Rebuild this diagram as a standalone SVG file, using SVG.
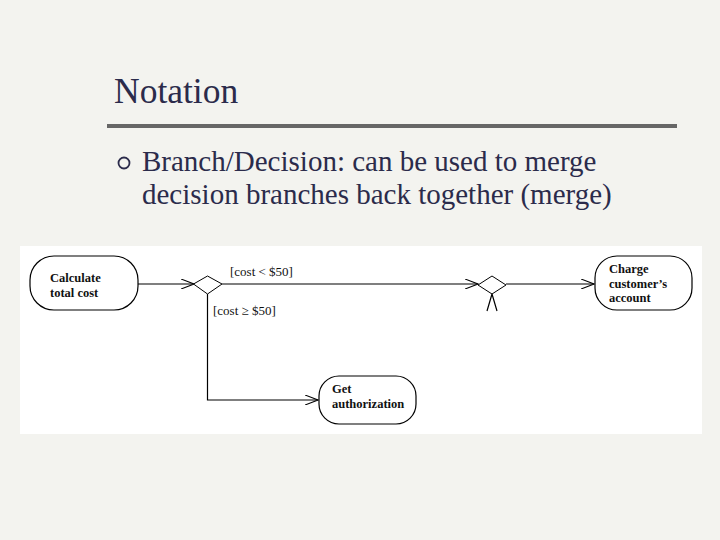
<svg xmlns="http://www.w3.org/2000/svg" width="720" height="540" viewBox="0 0 720 540">
<style>
.title{font-family:"Liberation Serif",serif;font-size:35.5px;fill:#2b2b4b}
.body{font-family:"Liberation Serif",serif;font-size:29px;fill:#2b2b4b}
.node{fill:#fff;stroke:#000;stroke-width:1.2}
.nl{font-family:"Liberation Serif",serif;font-size:12.5px;font-weight:bold;fill:#111}
.lbl{font-family:"Liberation Serif",serif;font-size:13px;fill:#111}
.edge{fill:none;stroke:#000;stroke-width:1.2}
.dia{fill:#fff;stroke:#000;stroke-width:1}
</style>
<defs>
<marker id="open" viewBox="0 0 14 10" refX="13" refY="5" markerWidth="14" markerHeight="10" markerUnits="userSpaceOnUse" orient="auto">
<path d="M0,0 L13,5 L0,10" fill="none" stroke="#000" stroke-width="1.1"/>
</marker>
</defs>
<rect width="720" height="540" fill="#f3f3ef"/>
<text class="title" x="114" y="103">Notation</text>
<rect x="107" y="124" width="570" height="4" fill="#666"/>
<circle cx="124" cy="163" r="5.5" fill="none" stroke="#2b2b4b" stroke-width="1.8"/>
<text class="body" x="142" y="171">Branch/Decision: can be used to merge</text>
<text class="body" x="142" y="204">decision branches back together (merge)</text>
<rect x="20" y="246" width="682" height="188" fill="#fff"/>
<g id="connectors">
<line class="edge" x1="138" y1="284" x2="194" y2="284" marker-end="url(#open)"/>
<line class="edge" x1="222" y1="284" x2="478" y2="284" marker-end="url(#open)"/>
<line class="edge" x1="506" y1="284" x2="594" y2="284" marker-end="url(#open)"/>
<polyline class="edge" points="207.5,294 207.5,400 318,400" marker-end="url(#open)"/>
<path class="edge" d="M487,311 L492,294 L497,311"/>
<text class="lbl" x="230" y="276">[cost &lt; $50]</text>
<text class="lbl" x="213" y="315">[cost ≥ $50]</text>
</g>
<g id="calc">
<rect class="node" x="30" y="256" width="108" height="54" rx="24" ry="24"/>
<text class="nl" x="50" y="282">Calculate</text>
<text class="nl" x="50" y="296.5">total cost</text>
</g>
<g id="decision">
<polygon class="dia" points="193.5,284 207.5,276 222,284 207.5,294"/>
</g>
<g id="merge">
<polygon class="dia" points="478,285 492,276 506,285 492,294"/>
</g>
<g id="charge">
<rect class="node" x="595" y="256" width="97" height="54" rx="22" ry="22"/>
<text class="nl" x="609" y="273">Charge</text>
<text class="nl" x="609" y="287.5">customer’s</text>
<text class="nl" x="609" y="302">account</text>
</g>
<g id="auth">
<rect class="node" x="319" y="376" width="97" height="48" rx="20" ry="20"/>
<text class="nl" x="332" y="393">Get</text>
<text class="nl" x="332" y="407.5">authorization</text>
</g>
</svg>
